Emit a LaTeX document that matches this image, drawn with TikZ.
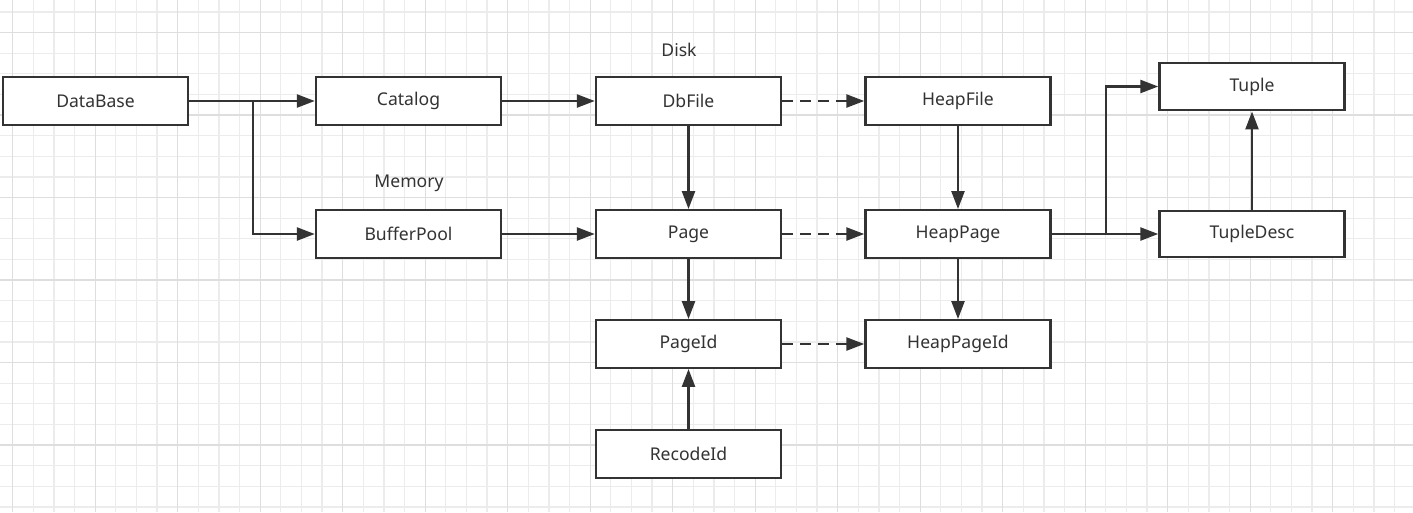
\documentclass[tikz,border=0pt]{standalone}
\usepackage{fontspec}
\setmainfont{Noto Sans}
\usetikzlibrary{arrows.meta}

\definecolor{gridl}{RGB}{236,236,236}
\definecolor{gridd}{RGB}{222,222,222}
\definecolor{inkd}{RGB}{51,51,51}

\tikzset{
    box/.style = {draw = inkd, fill = white, line width = 1.4pt, minimum width = 3.7cm, minimum height = 0.95cm, inner sep = 0pt, text = inkd, font = \fontsize{10}{12}\selectfont},
    lab/.style = {text = inkd, font = \fontsize{10}{12}\selectfont},
    arr/.style = {draw = inkd, line width = 1.4pt, -{Triangle[length = 0.36cm, width = 0.26cm]}},
    darr/.style = {arr, dash pattern = on 0.22cm off 0.14cm}
}

\begin{document}
\begin{tikzpicture}[x = 0.02cm, y = -0.02cm]
                    \useasboundingbox (0,0) rectangle (1413,512);
                    \fill[white] (0,0) rectangle (1413,512);
                    \foreach \i in {0,...,68}
                        {\draw[gridl, line width = 0.7pt] ({12.7 + \i*20.625},0) -- ++(0,512);}
                    \foreach \j in {0,...,24}
                        {\draw[gridl, line width = 0.7pt] (0,{11.9 + \j*20.625}) -- ++(1413,0);}
                    \foreach \i in {0,4,...,68}
                        {\draw[gridd, line width = 0.7pt] ({12.7 + \i*20.625},0) -- ++(0,512);}
                    \foreach \j in {1,5,...,24}
                        {\draw[gridd, line width = 0.7pt] (0,{11.9 + \j*20.625}) -- ++(1413,0);}
                    % boxes
                    \node[box] (dbase) at (95.5,101) {DataBase};
                    \node[box] (catalog) at (408.5,101) {Catalog};
                    \node[box] (bpool) at (408.5,234) {BufferPool};
                    \node[box] (dbfile) at (688.5,101) {DbFile};
                    \node[box] (page) at (688.5,234) {Page};
                    \node[box] (pageid) at (688.5,344) {PageId};
                    \node[box] (recid) at (688.5,454) {RecodeId};
                    \node[box] (hfile) at (958,101) {HeapFile};
                    \node[box] (hpage) at (958,234) {HeapPage};
                    \node[box] (hpageid) at (958,344) {HeapPageId};
                    \node[box] (tuple) at (1252,86.5) {Tuple};
                    \node[box, minimum height = 0.92cm] (tdesc) at (1252,234) {TupleDesc};
                    \node[lab] (disk) at (679,50) {Disk};
                    \node[lab] (mem) at (409,183) {Memory};
                    % links
                    \coordinate (split1) at (253,101);
                    \coordinate (split2) at (1106,234);
                    \draw[arr] (dbase) -- (catalog);
                    \draw[arr] (split1) |- (bpool);
                    \draw[arr] (catalog) -- (dbfile);
                    \draw[arr] (bpool) -- (page);
                    \draw[arr] (dbfile) -- (page);
                    \draw[arr] (page) -- (pageid);
                    \draw[arr] (recid) -- (pageid);
                    \draw[arr] (hfile) -- (hpage);
                    \draw[arr] (hpage) -- (hpageid);
                    \draw[arr] (hpage) -- (tdesc);
                    \draw[arr] (split2) |- (tuple);
                    \draw[arr] (tdesc) -- (tuple);
                    \draw[darr] (dbfile) -- (hfile);
                    \draw[darr] (page) -- (hpage);
                    \draw[darr] (pageid) -- (hpageid);
                \end{tikzpicture}
\end{document}
